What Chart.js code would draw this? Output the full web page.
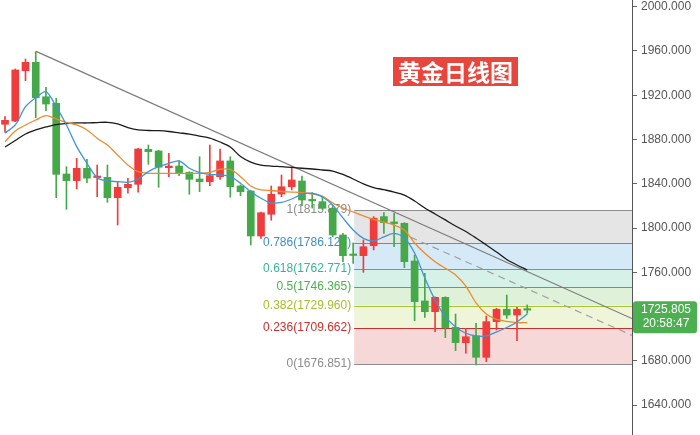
<!DOCTYPE html>
<html>
<head>
<meta charset="utf-8">
<script src="https://cdn.jsdelivr.net/npm/chart.js@4.4.0/dist/chart.umd.min.js"></script>
<style>
html, body { margin: 0; padding: 0; background: #fff; }
canvas { display: block; }
</style>
</head>
<body>
<canvas id="gold-chart" width="700" height="435"></canvas>
<script>
// daily candles (index 0 = oldest)
const opens  = [1893.7,1896.7,1942.1,1949.7,1918.6,1912.7,1848.8,1842.8,1853.9,1845.6,1845.8,1827.4,1836.4,1839.5,1871.1,1869.6,1854.5,1856.0,1850.3,1844.3,1841.9,1846.4,1860.6,1838.0,1833.4,1792.8,1812.4,1830.7,1837.3,1842.5,1825.5,1823.8,1817.8,1793.7,1776.0,1775.0,1784.0,1810.3,1805.5,1804.3,1770.2,1734.1,1724.4,1737.4,1710.3,1696.4,1702.5,1683.2,1715.4,1726.6,1721.4,1726.6];
const highs  = [1900.6,1943.7,1952.7,1959.3,1927.1,1917.2,1855.4,1863.0,1862.1,1856.9,1856.9,1841.9,1844.9,1872.0,1875.0,1870.2,1867.5,1860.8,1850.9,1864.4,1875.0,1871.4,1864.4,1838.9,1834.0,1814.5,1838.0,1847.9,1855.4,1847.0,1832.0,1828.3,1819.3,1795.2,1786.5,1789.2,1810.3,1813.9,1813.3,1804.8,1775.6,1759.1,1737.9,1737.9,1722.3,1709.4,1713.9,1720.5,1727.5,1739.5,1728.4,1730.5];
const lows   = [1886.5,1896.0,1933.1,1899.7,1906.0,1827.4,1816.9,1835.3,1841.0,1828.3,1823.2,1802.7,1831.4,1832.3,1857.6,1836.8,1846.4,1847.3,1830.5,1832.8,1838.2,1844.0,1827.8,1829.2,1784.7,1790.7,1807.0,1828.3,1834.4,1820.2,1818.0,1816.9,1792.2,1769.6,1768.0,1760.0,1780.2,1795.2,1783.1,1764.2,1716.3,1719.3,1706.3,1701.0,1689.2,1686.8,1676.3,1679.2,1707.9,1718.4,1698.2,1722.9];
const closes = [1897.3,1942.8,1949.7,1917.7,1912.0,1848.5,1842.8,1853.9,1845.0,1846.8,1827.4,1836.8,1839.5,1871.4,1869.0,1854.9,1856.0,1850.0,1844.0,1841.9,1847.3,1860.6,1837.3,1832.8,1792.8,1813.8,1830.5,1837.3,1843.4,1825.3,1824.5,1817.8,1793.7,1775.0,1775.2,1783.1,1808.8,1804.8,1804.0,1769.6,1733.5,1724.4,1737.4,1710.0,1696.4,1701.8,1683.2,1715.4,1726.6,1721.4,1726.6,1725.805];

// moving averages
const ma5  = [1885.8,1893.1,1909.6,1917.7,1923.2,1909.6,1893.1,1873.5,1858.5,1845.5,1842.5,1841.9,1841.3,1844.3,1850.9,1855.4,1858.5,1860.6,1854.0,1850.0,1848.5,1847.9,1846.4,1840.4,1832.8,1826.9,1822.6,1823.1,1826.2,1830.5,1831.4,1828.0,1820.8,1809.1,1798.2,1790.7,1788.3,1791.9,1795.1,1790.7,1777.4,1754.9,1735.0,1719.9,1710.6,1704.9,1702.5,1702.5,1706.1,1710.1,1715.1,1722.3];
const ma10 = [1878.0,1887.7,1893.1,1897.6,1901.5,1898.5,1895.5,1893.1,1888.6,1881.1,1875.0,1866.0,1857.0,1850.9,1849.4,1849.4,1849.4,1849.4,1849.4,1849.4,1850.3,1853.1,1852.9,1846.4,1838.0,1834.4,1833.9,1833.0,1832.5,1831.9,1830.7,1828.9,1822.6,1818.1,1814.5,1810.9,1807.7,1805.4,1802.7,1798.2,1786.5,1777.2,1769.6,1763.6,1757.6,1747.6,1732.3,1722.3,1717.4,1715.6,1714.5,1714.5];
const ma20 = [1873.2,1879.1,1884.9,1888.6,1891.3,1893.5,1894.4,1894.9,1894.9,1895.3,1895.5,1894.0,1890.8,1888.6,1888.1,1887.9,1887.2,1886.0,1884.9,1883.1,1881.3,1877.7,1873.2,1864.6,1859.6,1856.9,1856.0,1855.4,1854.7,1854.0,1853.3,1852.4,1851.5,1848.4,1844.3,1839.8,1836.6,1834.6,1832.5,1829.8,1824.4,1818.1,1812.7,1807.3,1801.8,1796.9,1791.0,1784.7,1778.3,1771.6,1766.6,1762.1];

// fibonacci retracement
const fibRatios = ['1', '0.786', '0.618', '0.5', '0.382', '0.236', '0'];
const fibPrices = [1815.879, 1786.127, 1762.771, 1746.365, 1729.960, 1709.662, 1676.851];
const fibStartIndex = 34.1;

// trend lines (index, price)
const trendX = [3.03, 61.23];
const trendY = [1959.6, 1718.2];
const dashX = [39.6, 61.23];
const dashY = [1791.8, 1703.0];

const yTicks = [1640, 1680, 1760, 1800, 1840, 1880, 1920, 1960, 2000];
const lastPrice = 1725.805;
const lastTime = '20:58:47';
const titleText = '黄金日线图';

const RED = '#f03c3c';
const GREEN = '#45a849';
const FONT = '"Liberation Sans", Arial, sans-serif';

const fibLine = ['#8c8c8c', '#4a98cc', '#3bb39a', '#4caf50', '#a9c236', '#c9302c', '#8c8c8c'];
const fibFill = ['#e5e5e5', '#d5eaf6', '#d6f1e7', '#dff2d9', '#eef5d9', '#f6d8d8'];
const fibText = ['#8c8c8c', '#3d8fc6', '#37b39a', '#4caf50', '#a5be2e', '#c9302c', '#8c8c8c'];

const idx = opens.map((_, i) => i);
const candleColors = idx.map(i => closes[i] >= opens[i] ? RED : GREEN);

// fib zones + labels drawn behind the candles
const fibPlugin = {
    id: 'fib',
    beforeDatasetsDraw(chart) {
        const ctx = chart.ctx, xs = chart.scales.x, ys = chart.scales.y;
        const left = xs.getPixelForValue(fibStartIndex);
        const right = chart.chartArea.right;
        ctx.save();
        for (let i = 0; i < fibPrices.length - 1; i++) {
            const y0 = ys.getPixelForValue(fibPrices[i]);
            const y1 = ys.getPixelForValue(fibPrices[i + 1]);
            ctx.fillStyle = fibFill[i];
            ctx.fillRect(left, y0, right - left, y1 - y0);
        }
        ctx.lineWidth = 1.2;
        ctx.font = '12px ' + FONT;
        ctx.textAlign = 'right';
        ctx.textBaseline = 'middle';
        fibPrices.forEach((p, i) => {
            const y = Math.round(ys.getPixelForValue(p)) + 0.5;
            ctx.strokeStyle = fibLine[i];
            ctx.beginPath();
            ctx.moveTo(left, y);
            ctx.lineTo(right, y);
            ctx.stroke();
            ctx.fillStyle = fibText[i];
            ctx.fillText(fibRatios[i] + '(' + p.toFixed(3) + ')', left - 3, y - 1);
        });
        ctx.restore();
    }
};

// title box and last price tag
const overlayPlugin = {
    id: 'overlay',
    afterDraw(chart) {
        const ctx = chart.ctx, ys = chart.scales.y, area = chart.chartArea;
        ctx.save();
        ctx.font = 'bold 23px "Noto Sans CJK SC", sans-serif';
        const tw = ctx.measureText(titleText).width;
        ctx.fillStyle = '#e8453c';
        ctx.fillRect(393, 57, tw + 10, 29);
        ctx.fillStyle = '#fff';
        ctx.textAlign = 'left';
        ctx.textBaseline = 'middle';
        ctx.fillText(titleText, 398, 72);

        const py = ys.getPixelForValue(lastPrice);
        const bx = area.right + 1, by = py - 9, bw = 64, bh = 32;
        ctx.fillStyle = '#4caf50';
        ctx.beginPath();
        ctx.roundRect(bx, by, bw, bh, 3);
        ctx.fill();
        ctx.fillStyle = '#fff';
        ctx.font = '12px ' + FONT;
        ctx.textAlign = 'center';
        ctx.fillText(lastPrice.toFixed(3), bx + bw / 2 + 1, py);
        ctx.fillText(lastTime, bx + bw / 2 + 1, py + 14);
        ctx.restore();
    }
};

const ctx = document.getElementById('gold-chart').getContext('2d');
new Chart(ctx, {
    type: 'bar',
    data: {
        datasets: [
            {
                type: 'line', label: 'MA5', order: 0,
                data: idx.map(i => ({ x: i, y: ma5[i] })),
                borderColor: '#3f95d9', borderWidth: 1.3, pointRadius: 0, tension: 0.3
            },
            {
                type: 'line', label: 'MA10', order: 0,
                data: idx.map(i => ({ x: i, y: ma10[i] })),
                borderColor: '#ee8a2e', borderWidth: 1.3, pointRadius: 0, tension: 0.3
            },
            {
                type: 'line', label: 'MA20', order: 0,
                data: idx.map(i => ({ x: i, y: ma20[i] })),
                borderColor: '#1a1a1a', borderWidth: 1.3, pointRadius: 0, tension: 0.3
            },
            {
                type: 'line', label: 'trend', order: 0,
                data: trendX.map((x, i) => ({ x: x, y: trendY[i] })),
                borderColor: '#7a7a7a', borderWidth: 1.2, pointRadius: 0
            },
            {
                type: 'line', label: 'trend2', order: 0,
                data: dashX.map((x, i) => ({ x: x, y: dashY[i] })),
                borderColor: '#a0a0a0', borderWidth: 1.2, pointRadius: 0, borderDash: [7, 5]
            },
            {
                label: 'body', order: 1, grouped: false,
                data: idx.map(i => ({ x: i, y: [opens[i], closes[i]] })),
                backgroundColor: candleColors, barThickness: 7, minBarLength: 1.5
            },
            {
                label: 'wick', order: 2, grouped: false,
                data: idx.map(i => ({ x: i, y: [lows[i], highs[i]] })),
                backgroundColor: candleColors, barThickness: 1
            }
        ]
    },
    options: {
        responsive: false,
        animation: false,
        layout: { padding: 0 },
        plugins: {
            legend: { display: false },
            tooltip: { enabled: false }
        },
        scales: {
            x: {
                type: 'linear',
                min: -0.49,
                max: 61.23,
                offset: false,
                display: false
            },
            y: {
                position: 'right',
                min: 1613,
                max: 2006,
                afterBuildTicks(scale) {
                    scale.ticks = yTicks.map(v => ({ value: v }));
                },
                afterFit(scale) {
                    scale.width = 68;
                    scale.paddingTop = 0;
                    scale.paddingBottom = 0;
                },
                grid: { display: true, drawOnChartArea: false, tickLength: 5, color: '#666' },
                border: { display: true, color: '#555' },
                ticks: {
                    color: '#555',
                    padding: 4,
                    font: { size: 12, family: FONT },
                    callback: v => v.toFixed(3)
                }
            }
        }
    },
    plugins: [fibPlugin, overlayPlugin]
});
</script>
</body>
</html>
